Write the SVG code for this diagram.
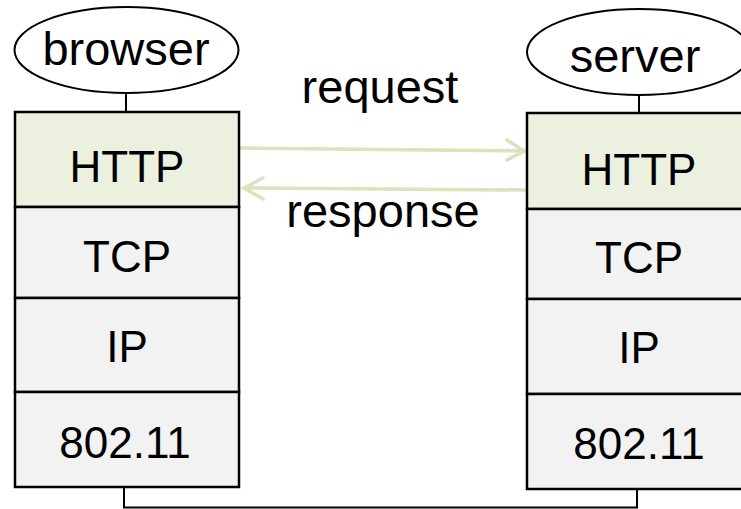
<svg xmlns="http://www.w3.org/2000/svg" width="741" height="509" viewBox="0 0 741 509">
<style>
.t{font-family:"Liberation Sans",Arial,sans-serif;fill:#000;text-anchor:middle}
.lay{font-size:44px}
.lbl{font-size:47px}
.box{stroke:#000;stroke-width:2.5}
.app{fill:#ebf1de}
.low{fill:#f2f2f2}
.ell{fill:#fff;stroke:#000;stroke-width:2}
.wire{fill:none;stroke:#000;stroke-width:2}
.arr{fill:none;stroke:#d7e4bd;stroke-width:3.5;stroke-linecap:round}
</style>
<rect width="741" height="509" fill="#fff"/>
<g id="connectors">
<line class="wire" x1="126" y1="93" x2="126" y2="112"/>
<line class="wire" x1="639" y1="96" x2="639" y2="113"/>
<polyline class="wire" points="124,487 124,507.5 637,507.5 637,489"/>
<g id="request-arrow">
<line class="arr" x1="241" y1="148" x2="524" y2="151"/>
<polyline class="arr" points="507,140 524,151 507,160"/>
</g>
<g id="response-arrow">
<line class="arr" x1="527" y1="190" x2="244" y2="188"/>
<polyline class="arr" points="263,178 244,188 263,199"/>
</g>
</g>
<g id="browser">
<ellipse class="ell" cx="126.5" cy="50" rx="112" ry="43"/>
<text class="t lbl" x="126" y="65">browser</text>
</g>
<g id="server">
<ellipse class="ell" cx="639" cy="52" rx="112" ry="43"/>
<text class="t lbl" x="635" y="72">server</text>
</g>
<g id="request-label"><text class="t lbl" x="380" y="103">request</text></g>
<g id="response-label"><text class="t lbl" x="383" y="227">response</text></g>
<g id="browser-stack">
<g id="browser-http"><rect class="box app" x="15" y="112" width="224" height="95"/><text class="t lay" x="127" y="182">HTTP</text></g>
<g id="browser-tcp"><rect class="box low" x="15" y="207" width="224" height="91"/><text class="t lay" x="127" y="272">TCP</text></g>
<g id="browser-ip"><rect class="box low" x="15" y="298" width="224" height="94"/><text class="t lay" x="127" y="362">IP</text></g>
<g id="browser-80211"><rect class="box low" x="15" y="392" width="224" height="95"/><text class="t lay" x="125" y="458">802.11</text></g>
</g>
<g id="server-stack">
<g id="server-http"><rect class="box app" x="527" y="113" width="224" height="96"/><text class="t lay" x="639" y="185">HTTP</text></g>
<g id="server-tcp"><rect class="box low" x="527" y="209" width="224" height="90"/><text class="t lay" x="639" y="273">TCP</text></g>
<g id="server-ip"><rect class="box low" x="527" y="299" width="224" height="95"/><text class="t lay" x="639" y="363">IP</text></g>
<g id="server-80211"><rect class="box low" x="527" y="394" width="224" height="95"/><text class="t lay" x="639" y="459">802.11</text></g>
</g>
</svg>
